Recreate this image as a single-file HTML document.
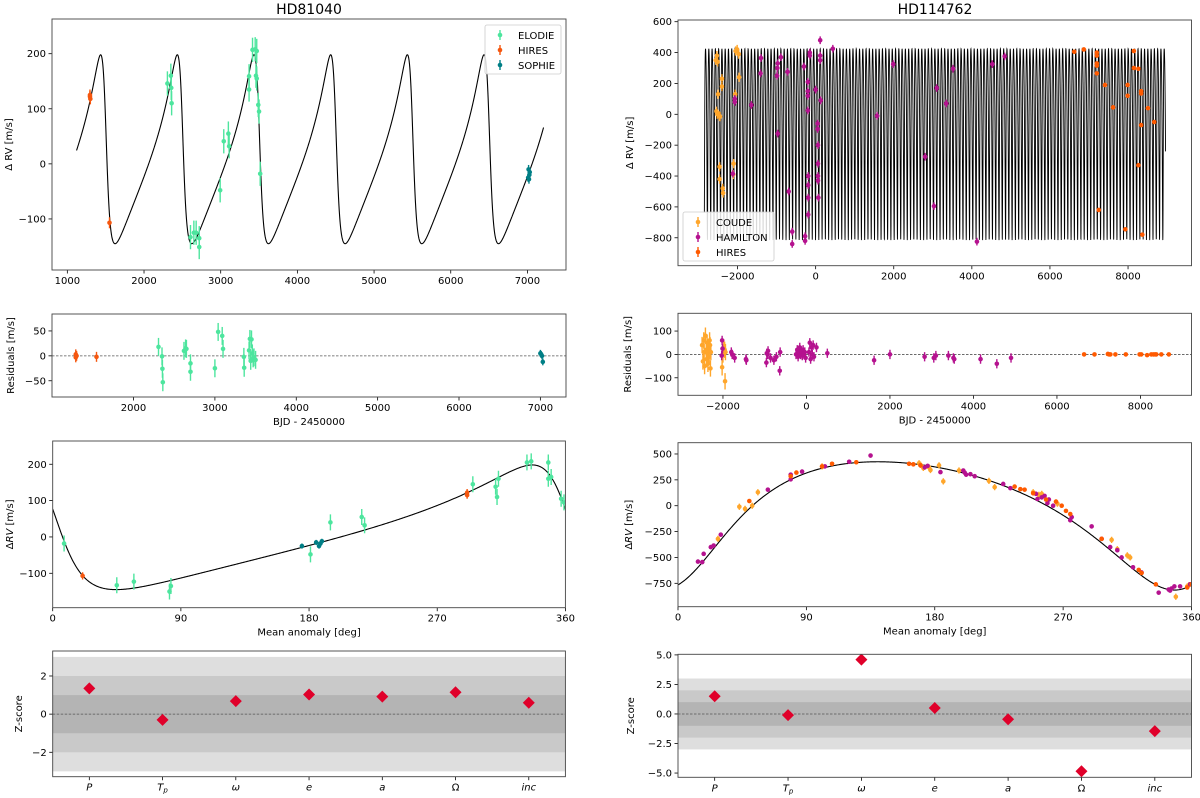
<!DOCTYPE html>
<html><head><meta charset="utf-8"><style>
html,body{margin:0;padding:0;background:#fff}
svg{display:block;font-family:"DejaVu Sans","Liberation Sans",sans-serif}
</style></head><body>
<svg id="fig" width="1200" height="798" viewBox="0 0 1200 798" xmlns="http://www.w3.org/2000/svg">
<text x="309" y="14" font-size="14" text-anchor="middle">HD81040</text>
<text x="935" y="14" font-size="14" text-anchor="middle">HD114762</text>
</svg>
<script>
// ---------- DATA: HD81040 ----------
const lElodieT=[2305,2350,2355,2360,2606,2650,2680,2720,2720,2993,3040,3100,3110,3370,3370,3415,3450,3470,3460,3470,3490,3500,3515];
const lElodieRV=[146,160,138,110,-133,-125,-125,-151,-135,-48,41,55,32,159,135,207,208,205,160,155,107,95,-18];
const lHiresT=[1295,1300,1295,1550];
const lHiresRV=[122,118,125,-107];
const lSophieT=[7010,7020,7030,7015,7025];
const lSophieRV=[-25,-28,-15,-10,-20];
const lResElodieT=[2307,2350,2355,2360,2620,2640,2650,2700,2700,3000,3040,3090,3100,3356,3360,3420,3430,3450,3460,3470,3480,3500,3440];
const lResElodie=[18,-1,-26,-53,10,15,14,-15,-32,-25,48,40,14,-2,-24,11,34,33,5,-5,-3,-8,-10];
const lResHiresT=[1290,1290,1300,1545];
const lResHires=[3,-3,0,-2];
const lResSophieT=[7010,7020,7030,7000];
const lResSophie=[3,0,-12,5];
const lMaElodieM=[8,45,57,82,83,181,195,217,219,295,311,312,313,333,336,348,348,350,357,359];
const lMaElodieRV=[-18,-133,-123,-150,-135,-48,40,55,32,145,138,110,160,205,208,205,160,165,105,95];
const lMaHiresM=[21,291,291];
const lMaHiresRV=[-107,122,115];
const lMaSophieM=[175,185,187,188,189];
const lMaSophieRV=[-25,-15,-25,-18,-12];
const lOrbit=[1000,1499,171.5,0.53,73,0]; // P, tp, K, e, omega(deg), offset
const zLabels=["P","Tp","ω","e","a","Ω","inc"];
const lZ=[1.35,-0.3,0.68,1.03,0.92,1.15,0.6];
// ---------- DATA: HD114762 ----------
const rCoudeT=[-2560,-2530,-2510,-2500,-2540,-2520,-2470,-2450,-2460,-2460,-2400,-2400,-2380,-2370,-2050,-2010,-1970,-1960,-2100,-2110,-2060];
const rCoudeRV=[350,380,340,130,20,0,-10,-15,-340,-420,180,230,-480,-510,410,420,390,240,-320,-390,130];
const rHamT=[-2120,-2070,-2070,-1646,-1400,-1410,-990,-980,-970,-890,-970,-720,-690,-600,-600,-300,-270,-270,-200,-200,-200,-200,-190,-190,-190,-190,-150,-150,0,50,50,60,60,60,60,70,116,116,116,130,440,1573,1986,2803,3030,3100,3344,3520,4130,4525,4840];
const rHamRV=[-385,100,80,60,365,265,250,300,330,370,-125,275,-500,-760,-840,310,-790,-820,210,150,120,25,-400,-460,-540,-650,400,380,160,-60,-95,-200,-320,-400,-430,-540,480,380,350,90,425,-10,325,-275,-595,170,70,295,-825,325,375];
const rHiresT=[6622,6868,7200,7200,7200,7200,7200,7250,7410,7616,7931,7990,7990,8150,8150,8265,8265,8335,8335,8335,8365,8510,8670];
const rHiresRV=[405,420,400,380,330,315,265,-620,190,45,-745,190,120,410,300,-330,295,150,135,-70,-780,40,-50];
const rResCoudeT=[-2500,-2480,-2460,-2450,-2440,-2420,-2400,-2390,-2380,-2370,-2360,-2350,-2330,-2320,-2310,-2300,-2290,-2020,-2000,-1950,-1960,-1980,-1940];
const rResCoude=[40,-30,60,10,-50,80,20,-20,50,0,-40,30,-10,60,40,-60,10,-55,0,-115,20,30,10];
const rResHamT=[-2010,-2020,-2030,-1800,-1780,-1720,-1450,-1440,-950,-960,-930,-920,-860,-780,-720,-640,-630,-250,-220,-200,-180,-160,-140,-120,-100,-80,-60,-40,-20,60,80,100,120,140,160,180,240,500,1620,2000,2830,3050,3100,3400,3520,3540,4170,4560,4900];
const rResHam=[25,60,-5,10,0,-15,-20,-25,5,-35,0,15,-15,-25,-10,-70,10,0,20,-10,10,30,0,15,-5,20,0,10,-15,10,50,-20,30,0,40,-10,30,5,-25,0,-10,-15,-5,-5,-15,-20,-20,-40,-15];
const rResHiresT=[6650,6900,7220,7250,7280,7400,7650,7980,8020,8160,8260,8310,8350,8380,8500,8680];
const rResHires=[0,0,2,0,0,0,0,0,0,-3,0,0,0,0,0,0];
const rMaHamM=[14,17,18,23,25,30,63,79,79,87,103,135,120,173,175,184,200,201,202,205,208,228,233,251,252,255,257,259,260,263,275,276,290,297,303,308,311,319,325,337,344,345,346,348,352,359];
const rMaHamRV=[-540,-545,-465,-400,-385,-280,155,255,300,330,380,485,425,370,385,325,340,320,300,305,285,210,170,115,65,80,95,25,60,0,-140,-110,-200,-320,-400,-430,-500,-595,-645,-840,-810,-820,-800,-780,-780,-760];
const rMaCoudeM=[43,47,52,56,28,101,169,170,172,176,177,183,186,197,218,222,249,253,255,266,304,308,315,317,349,357,358];
const rMaCoudeRV=[-10,-30,0,130,-320,380,410,395,365,370,345,390,235,340,240,180,130,105,115,20,-330,-420,-480,-500,-880,-780,-770];
const rMaHiresM=[50,79,83,101,108,125,162,165,170,236,240,243,249,258,265,269,272,275,297,323,325,335,357,360];
const rMaHiresRV=[45,285,320,380,405,420,405,400,390,185,160,155,120,60,40,0,-50,-80,-320,-620,-650,-760,-790,-760];
const rOrbit=[83.9,0,620,0.3,203,-24];
const rZ=[1.5,-0.1,4.6,0.5,-0.45,-4.85,-1.45];

// ---------- helpers ----------
const NS="http://www.w3.org/2000/svg";
const fig=document.getElementById('fig');
function mk(tag,attrs,parent){const e=document.createElementNS(NS,tag);for(const k in attrs)e.setAttribute(k,attrs[k]);(parent||fig).appendChild(e);return e;}
function fmt(v,dec){let s=dec?v.toFixed(dec):String(v);return s.replace('-','−');}
function axes(o){
  const sx=v=>o.x0+(v-o.xmin)/(o.xmax-o.xmin)*(o.x1-o.x0);
  const sy=v=>o.y1-(v-o.ymin)/(o.ymax-o.ymin)*(o.y1-o.y0);
  const g=mk('g',{});
  
  
  const clipId='c'+o.name;
  const cp=mk('clipPath',{id:clipId},g);mk('rect',{x:o.x0,y:o.y0,width:o.x1-o.x0,height:o.y1-o.y0},cp);
  const plot=mk('g',{'clip-path':'url(#'+clipId+')'},g);
  o.xt.forEach((v,i)=>{const x=sx(v);mk('line',{x1:x,x2:x,y1:o.y1,y2:o.y1+3.5,stroke:'#000','stroke-width':0.8},g);
    const t=mk('text',{x:x,y:o.y1+14,'font-size':10,'text-anchor':'middle'},g);
    
    
    if(o.xlab){const L=o.xlab[i];if(L==='Tp'){t.setAttribute('font-style','italic');t.textContent='T';const s=mk('tspan',{'font-size':7,dy:2},t);s.textContent='p';}else{t.textContent=L;if(L!=='Ω')t.setAttribute('font-style','italic');}}
    else t.textContent=fmt(v);});
  o.yt.forEach(v=>{const y=sy(v);mk('line',{x1:o.x0-3.5,x2:o.x0,y1:y,y2:y,stroke:'#000','stroke-width':0.8},g);
    const t=mk('text',{x:o.x0-6,y:y+3.5,'font-size':10,'text-anchor':'end'},g);
    
    
    t.textContent=fmt(v,o.ydec);});
  const fr=mk('rect',{x:o.x0,y:o.y0,width:o.x1-o.x0,height:o.y1-o.y0,fill:'none',stroke:'#444','stroke-width':0.9},g);
  
  
  if(o.ylabel){const cy=(o.y0+o.y1)/2;const t=mk('text',{x:o.ylx,y:cy,'font-size':10,'text-anchor':'middle',transform:'rotate(-90 '+o.ylx+' '+cy+')'},g);
    
    
    t.innerHTML=o.ylabel;}
  if(o.xlabel){const t=mk('text',{x:(o.x0+o.x1)/2,y:o.y1+28,'font-size':10,'text-anchor':'middle'},g);
    
    
    t.textContent=o.xlabel;}
  return {sx,sy,plot,g};
}
function kep(t,orb){const [P,tp,K,e,w,g]=orb;let M=2*Math.PI*((t-tp)/P);M=((M%(2*Math.PI))+2*Math.PI)%(2*Math.PI);
  let E=M;for(let i=0;i<30;i++)E=E-(E-e*Math.sin(E)-M)/(1-e*Math.cos(E));
  const nu=2*Math.atan(Math.sqrt((1+e)/(1-e))*Math.tan(E/2));const wr=w*Math.PI/180;
  return K*(Math.cos(nu+wr)+e*Math.cos(wr))+g;}
function curve(ax,t0,t1,n,fn,name,sw){let d='';for(let i=0;i<=n;i++){const t=t0+(t1-t0)*i/n;d+=(i?'L':'M')+ax.sx(t).toFixed(2)+' '+ax.sy(fn(t)).toFixed(2);}
  const p=mk('path',{d:d,fill:'none',stroke:'#000','stroke-width':sw||1.1},ax.plot);
  
  }
function pts(ax,xs,ys,err,col,name,r){xs.forEach((x,i)=>{const g=mk('g',{},ax.plot);
  
  
  const X=ax.sx(x),Y=ax.sy(ys[i]);
  mk('line',{x1:X,x2:X,y1:ax.sy(ys[i]+err),y2:ax.sy(ys[i]-err),stroke:col,'stroke-width':1.4},g);
  mk('circle',{cx:X,cy:Y,r:r||2.3,fill:col},g);});}
function zero(ax,xmin,xmax){const l=mk('line',{x1:ax.sx(xmin),x2:ax.sx(xmax),y1:ax.sy(0),y2:ax.sy(0),stroke:'#555','stroke-width':0.8,'stroke-dasharray':'2.5,1.5'},ax.plot);
  
  }
function legend(x,y,items){const g=mk('g',{});
  
  
  mk('rect',{x:x,y:y,width:items.w,height:49,fill:'#fff','fill-opacity':0.85,stroke:'#ccc','stroke-width':0.8,rx:2},g);
  items.list.forEach((it,i)=>{const yy=y+10+i*15;const e=mk('g',{},g);
    
    
    mk('line',{x1:x+15,x2:x+15,y1:yy-5,y2:yy+5,stroke:it[1],'stroke-width':1.4},e);
    mk('circle',{cx:x+15,cy:yy,r:2.3,fill:it[1]},e);
    const t=mk('text',{x:x+33,y:yy+4,'font-size':10},e);t.textContent=it[0];});}
function zpanel(ax,vals,name){[[3,'#dedede'],[2,'#c9c9c9'],[1,'#b4b4b4']].forEach(b=>{const r=mk('rect',{x:ax.sx(-0.5),y:ax.sy(b[0]),width:ax.sx(6.5)-ax.sx(-0.5),height:ax.sy(-b[0])-ax.sy(b[0]),fill:b[1]},ax.plot);
    
    });
  zero(ax,-0.5,6.5);
  vals.forEach((v,i)=>{const X=ax.sx(i),Y=ax.sy(v);const p=mk('polygon',{points:`${X},${Y-6} ${X+6},${Y} ${X},${Y+6} ${X-6},${Y}`,fill:'#e0002a'},ax.plot);
    
    });}

const cEl='#4de59e',cHi='#f5570f',cSo='#007f86',cCo='#ffa62b',cHa='#b5128f',cHi2='#ff5a00';

// ---------- HD81040 ----------
let a=axes({name:'rv-time-hd81040',x0:52,x1:566,y0:19,y1:270,xmin:800,xmax:7503,ymin:-192.7,ymax:263,xt:[1000,2000,3000,4000,5000,6000,7000],yt:[-100,0,100,200],ylabel:'Δ RV [m/s]',ylx:12});
curve(a,1120,7210,3000,t=>kep(t,lOrbit),'model-curve');
pts(a,lElodieT,lElodieRV,22,cEl,'elodie-point');pts(a,lHiresT,lHiresRV,10,cHi,'hires-point');pts(a,lSophieT,lSophieRV,8,cSo,'sophie-point');
legend(485,25,{w:76,list:[['ELODIE',cEl],['HIRES',cHi],['SOPHIE',cSo]]});

a=axes({name:'residuals-hd81040',x0:52,x1:566,y0:314,y1:397,xmin:998,xmax:7315,ymin:-82.6,ymax:84,xt:[2000,3000,4000,5000,6000,7000],yt:[-50,0,50],ylabel:'Residuals [m/s]',ylx:14,xlabel:'BJD - 2450000'});
zero(a,998,7315);
pts(a,lResElodieT,lResElodie,18,cEl,'elodie-residual');pts(a,lResHiresT,lResHires,10,cHi,'hires-residual');pts(a,lResSophieT,lResSophie,7,cSo,'sophie-residual');

a=axes({name:'rv-phase-hd81040',x0:52.7,x1:565.4,y0:441,y1:607.7,xmin:0,xmax:360,ymin:-194.7,ymax:264,xt:[0,90,180,270,360],yt:[-100,0,100,200],ylabel:'Δ<tspan font-style="italic">RV</tspan> [m/s]',ylx:13,xlabel:'Mean anomaly [deg]'});
curve(a,0,360,600,m=>kep(m/360*lOrbit[0]+lOrbit[1],lOrbit),'phase-model-curve');
pts(a,lMaElodieM,lMaElodieRV,22,cEl,'elodie-phase-point');pts(a,lMaHiresM,lMaHiresRV,10,cHi,'hires-phase-point');pts(a,lMaSophieM,lMaSophieRV,7,cSo,'sophie-phase-point');

a=axes({name:'zscore-hd81040',x0:52.7,x1:565.4,y0:651,y1:776.7,xmin:-0.5,xmax:6.5,ymin:-3.28,ymax:3.31,xt:[0,1,2,3,4,5,6],xlab:zLabels,yt:[-2,0,2],ylabel:'Z-score',ylx:22});
zpanel(a,lZ,'zscore-marker');

// ---------- HD114762 ----------
a=axes({name:'rv-time-hd114762',x0:678,x1:1191.5,y0:20,y1:265.7,xmin:-3525,xmax:9625,ymin:-981,ymax:611,xt:[-2000,0,2000,4000,6000,8000],yt:[-800,-600,-400,-200,0,200,400,600],ylabel:'Δ RV [m/s]',ylx:633});
curve(a,-2850,8960,5600,t=>kep(t,rOrbit),'model-curve',0.9);
pts(a,rCoudeT,rCoudeRV,30,cCo,'coude-point');pts(a,rHamT,rHamRV,25,cHa,'hamilton-point');pts(a,rHiresT,rHiresRV,8,cHi2,'hires-point');
legend(683,212,{w:91,list:[['COUDE',cCo],['HAMILTON',cHa],['HIRES',cHi2]]});

a=axes({name:'residuals-hd114762',x0:678,x1:1191.5,y0:313.3,y1:395.3,xmin:-3077,xmax:9223,ymin:-175,ymax:176,xt:[-2000,0,2000,4000,6000,8000],yt:[-100,0,100],ylabel:'Residuals [m/s]',ylx:631,xlabel:'BJD - 2450000'});
zero(a,-3077,9223);
pts(a,rResCoudeT,rResCoude,35,cCo,'coude-residual');pts(a,rResHamT,rResHam,20,cHa,'hamilton-residual');pts(a,rResHiresT,rResHires,5,cHi2,'hires-residual');

a=axes({name:'rv-phase-hd114762',x0:678,x1:1191.5,y0:442.7,y1:606.7,xmin:0,xmax:360,ymin:-976,ymax:609,xt:[0,90,180,270,360],yt:[-750,-500,-250,0,250,500],ylabel:'Δ<tspan font-style="italic">RV</tspan> [m/s]',ylx:632,xlabel:'Mean anomaly [deg]'});
curve(a,0,360,600,m=>kep(m/360*rOrbit[0]+rOrbit[1],rOrbit),'phase-model-curve');
pts(a,rMaCoudeM,rMaCoudeRV,30,cCo,'coude-phase-point');pts(a,rMaHamM,rMaHamRV,20,cHa,'hamilton-phase-point');pts(a,rMaHiresM,rMaHiresRV,8,cHi2,'hires-phase-point');

a=axes({name:'zscore-hd114762',x0:678,x1:1191.5,y0:654.3,y1:777.3,xmin:-0.5,xmax:6.5,ymin:-5.36,ymax:5.05,xt:[0,1,2,3,4,5,6],xlab:zLabels,yt:[-5,-2.5,0,2.5,5],ydec:1,ylabel:'Z-score',ylx:634});
zpanel(a,rZ,'zscore-marker');
</script>
</body></html>
